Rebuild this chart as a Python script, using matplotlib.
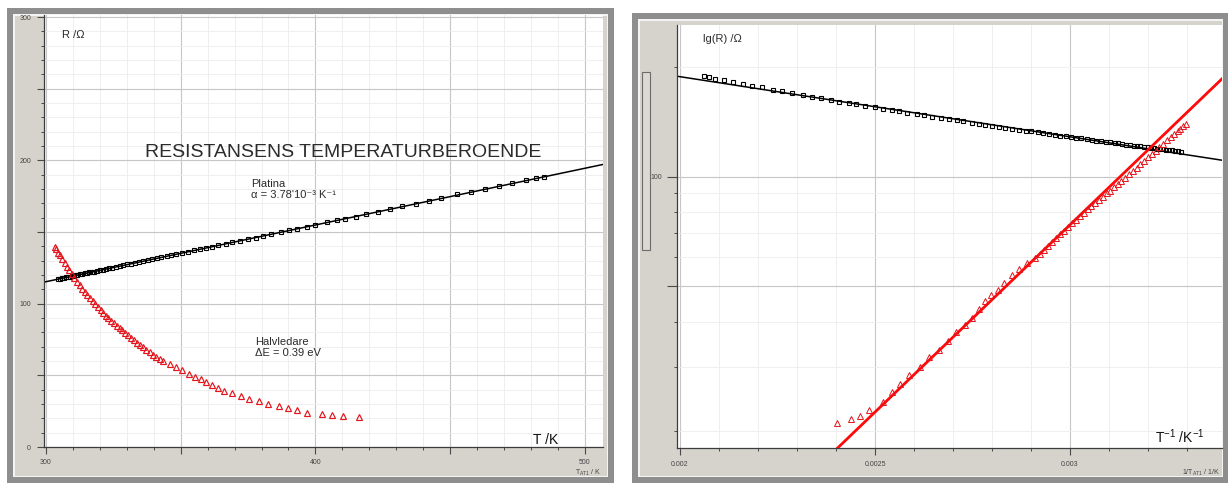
import matplotlib
matplotlib.use("Agg")
import matplotlib.pyplot as plt
import numpy as np
from matplotlib.patches import Rectangle
from matplotlib.ticker import MultipleLocator, FixedLocator, FuncFormatter, NullFormatter

plt.rcParams['font.family'] = ['Liberation Sans', 'DejaVu Sans']
plt.rcParams['mathtext.fontset'] = 'custom'
plt.rcParams['mathtext.rm'] = 'Liberation Sans'
plt.rcParams['mathtext.it'] = 'Liberation Sans:italic'
plt.rcParams['mathtext.bf'] = 'Liberation Sans:bold'

# ---------------- data ----------------
# Platinum resistor: temperature (K) and resistance (Ohm)
pt_T = [304.4, 305.1, 305.9, 306.6, 307.3, 308.1, 308.8, 309.5, 310.3, 311.0,
        311.7, 312.6, 313.5, 314.4, 315.3, 316.1, 317.0, 318.0, 319.1, 320.1,
        321.1, 322.3, 323.5, 324.7, 326.0, 327.3, 328.6, 330.1, 331.5, 333.0,
        334.5, 336.1, 337.7, 339.3, 341.1, 342.8, 344.8, 346.5, 348.4, 350.6,
        352.8, 355.0, 357.2, 359.4, 361.6, 363.8, 366.8, 369.0, 371.9, 374.8,
        377.8, 380.7, 383.6, 387.3, 390.2, 393.2, 396.8, 399.8, 404.2, 407.9,
        410.8, 415.2, 418.9, 423.3, 427.7, 432.1, 437.2, 442.3, 446.7, 452.6,
        457.7, 462.9, 468.0, 473.1, 478.3, 481.9, 484.9]
pt_R = [117.2, 117.5, 117.8, 118.1, 118.3, 118.6, 118.9, 119.2, 119.5, 119.8,
        120.1, 120.4, 120.8, 121.1, 121.5, 121.8, 122.2, 122.4, 123.0, 123.4,
        123.8, 124.3, 124.7, 125.2, 125.7, 126.3, 126.8, 127.4, 127.9, 128.5,
        129.1, 129.7, 130.4, 131.3, 131.7, 132.4, 133.2, 133.9, 134.6, 135.5,
        136.3, 137.2, 138.1, 139.0, 139.8, 140.7, 141.9, 142.8, 143.9, 145.1,
        145.9, 147.4, 148.5, 150.0, 151.2, 152.3, 153.8, 155.0, 156.7, 158.2,
        159.3, 160.7, 162.5, 164.3, 166.0, 167.8, 169.8, 171.8, 173.5, 176.2,
        177.9, 180.0, 182.0, 184.0, 186.1, 187.5, 188.7]

# Semiconductor (Halvledare): temperature (K) and resistance (Ohm)
hl_T = [303.3, 303.9, 304.6, 305.2, 306.1, 306.9, 307.8, 308.7, 309.7, 310.6,
        311.6, 312.5, 313.5, 314.4, 315.4, 316.4, 317.3, 318.3, 319.3, 320.3,
        321.2, 322.2, 323.2, 324.3, 325.3, 326.3, 327.4, 328.4, 329.5, 330.6,
        331.6, 332.7, 333.8, 335.0, 336.1, 337.3, 338.5, 339.7, 340.9, 342.2,
        343.5, 346.2, 348.4, 350.6, 353.2, 355.3, 357.4, 359.5, 361.6, 363.8,
        366.1, 369.2, 372.3, 375.5, 379.1, 382.4, 386.4, 389.9, 393.2, 396.9,
        402.4, 406.2, 410.3, 416.2]
hl_R = [139.6, 137.8, 135.6, 133.7, 130.9, 128.5, 125.9, 123.3, 120.4, 118.0,
        115.3, 113.0, 110.5, 108.3, 106.0, 103.7, 101.6, 99.5, 97.4, 95.3,
        93.5, 91.6, 90.0, 88.1, 86.4, 84.7, 82.9, 81.3, 79.5, 77.8,
        76.2, 74.6, 72.9, 71.1, 69.5, 67.8, 66.1, 64.5, 62.9, 61.3,
        59.7, 57.8, 55.8, 53.8, 51.0, 49.0, 47.3, 45.5, 43.2, 41.0,
        39.2, 37.4, 35.3, 33.5, 32.0, 30.0, 28.5, 27.0, 25.6, 24.0,
        22.8, 22.0, 21.6, 21.0]

# fits
pt_R0 = 104.7          # Ohm at 273.15 K
pt_alpha = 3.78e-3     # 1/K
pt_lg_a, pt_lg_b = 2.605, -165.1      # lg(R) = a + b / T   (platinum, right panel)
hl_lg_a, hl_lg_b = -1.219, 1029.0     # lg(R) = a + b / T   (semiconductor)

# ---------------- figure ----------------
W, H = 1228, 484
fig = plt.figure(figsize=(W / 100, H / 100), dpi=100)
fig.patch.set_facecolor('white')


def rect_px(x0, y0, x1, y1):
    return [x0 / W, 1 - y1 / H, (x1 - x0) / W, (y1 - y0) / H]


def frame(x0, y0, x1, y1):
    fig.add_artist(Rectangle((x0 / W, 1 - y1 / H), (x1 - x0) / W, (y1 - y0) / H,
                             transform=fig.transFigure, facecolor='#8e8e8e',
                             edgecolor='none', zorder=-3))
    b = 6
    fig.add_artist(Rectangle(((x0 + b) / W, 1 - (y1 - b) / H), (x1 - x0 - 2 * b) / W,
                             (y1 - y0 - 2 * b) / H, transform=fig.transFigure,
                             facecolor='#f4f4f4', edgecolor='none', zorder=-2))
    b = 7.5
    fig.add_artist(Rectangle(((x0 + b) / W, 1 - (y1 - b) / H), (x1 - x0 - 2 * b) / W,
                             (y1 - y0 - 2 * b) / H, transform=fig.transFigure,
                             facecolor='#d6d3cd', edgecolor='none', zorder=-1))


frame(7, 8, 614, 483)
frame(632, 13, 1229, 483)

# scrollbar-like widget on the right panel
fig.add_artist(Rectangle((642 / W, 1 - 250 / H), 8 / W, 178 / H, transform=fig.transFigure,
                         facecolor='#dcd9d3', edgecolor='#6b6b6b', lw=0.8, zorder=-0.5))

GRID_MAJ = '#c6c6c6'
GRID_MIN = '#ededed'
TXT = '#2b2b2b'


def style(ax):
    ax.set_facecolor('white')
    for s in ('top', 'right'):
        ax.spines[s].set_visible(False)
    for s in ('left', 'bottom'):
        ax.spines[s].set_color('#3c3c3c')
        ax.spines[s].set_linewidth(0.9)
    ax.tick_params(which='major', length=5, width=0.8, color='#4a4a4a',
                   labelsize=5, labelcolor='#444444', pad=4)
    ax.tick_params(which='minor', length=2.3, width=0.7, color='#4a4a4a')
    ax.grid(which='major', color=GRID_MAJ, lw=0.8)
    ax.grid(which='minor', color=GRID_MIN, lw=0.6)
    ax.set_axisbelow(True)


# ---------------- left panel ----------------
ax1 = fig.add_axes(rect_px(43.5, 15, 603, 447))
style(ax1)
ax1.set_xlim(299.1, 506.7)
ax1.set_ylim(0, 301.4)
ax1.xaxis.set_major_locator(MultipleLocator(50))
ax1.xaxis.set_minor_locator(MultipleLocator(10))
ax1.yaxis.set_major_locator(MultipleLocator(50))
ax1.yaxis.set_minor_locator(MultipleLocator(10))
hund = FuncFormatter(lambda v, p: f"{v:.0f}" if abs(v % 100) < 1e-6 or abs(v % 100 - 100) < 1e-6 else "")
ax1.xaxis.set_major_formatter(hund)
ax1.yaxis.set_major_formatter(hund)

Tl = np.linspace(299.1, 506.7, 50)
ax1.plot(Tl, pt_R0 * (1 + pt_alpha * (Tl - 273.15)), color='black', lw=1.1, zorder=2)
ax1.plot(pt_T, pt_R, ls='none', marker='s', ms=3.4, mfc='none', mec='black', mew=0.8, zorder=3)
ax1.plot(hl_T, hl_R, ls='none', marker='^', ms=4.4, mfc='none', mec='#e3141b', mew=0.85, zorder=4)


def ftext(x, y, s, **kw):
    fig.text(x / W, 1 - y / H, s, **kw)


ftext(62, 38.5, 'R /Ω', fontsize=8, color=TXT)
ftext(145, 157, 'RESISTANSENS TEMPERATURBEROENDE', fontsize=14, color=TXT)
ftext(251, 197.5, "Platina\nα = 3.78'10⁻³ K⁻¹", fontsize=8, color=TXT,
      linespacing=1.05, va='baseline')
ftext(255, 356, 'Halvledare\nΔE = 0.39 eV', fontsize=8, color=TXT,
      linespacing=1.15, va='baseline')
ftext(533, 443.5, 'T /K', fontsize=10, color='#111111')
ftext(601, 475, 'T$_{\\mathrm{AT1}}$ / K', fontsize=5, color='#444444', ha='right')

# ---------------- right panel ----------------
ax2 = fig.add_axes(rect_px(677, 25, 1222, 448))
style(ax2)
ax2.set_yscale('log')
ax2.set_xlim(0.0019923, 0.0033897)
ax2.set_ylim(17.98, 261.1)
ax2.xaxis.set_major_locator(MultipleLocator(0.0005))
ax2.xaxis.set_minor_locator(MultipleLocator(0.0001))
ax2.xaxis.set_major_formatter(FuncFormatter(lambda v, p: '%g' % round(v, 6)))
ax2.yaxis.set_major_locator(FixedLocator([50, 100]))
ax2.yaxis.set_minor_locator(FixedLocator([20, 30, 40, 60, 70, 80, 90, 200]))
ax2.yaxis.set_major_formatter(FuncFormatter(lambda v, p: '100' if abs(v - 100) < 1e-6 else ''))
ax2.yaxis.set_minor_formatter(NullFormatter())
ax2.tick_params(axis='y', which='major', length=7)

inv_pt = 1.0 / np.array(pt_T)
inv_hl = 1.0 / np.array(hl_T)
xl = np.linspace(0.0019923, 0.0033897, 50)
ax2.plot(xl, 10 ** (pt_lg_a + pt_lg_b * xl), color='black', lw=1.1, zorder=2)
ax2.plot(inv_pt, pt_R, ls='none', marker='s', ms=3.4, mfc='none', mec='black', mew=0.8, zorder=3)
ax2.plot(xl, 10 ** (hl_lg_a + hl_lg_b * xl), color='#ff0a0a', lw=2.0, zorder=4)
ax2.plot(inv_hl, hl_R, ls='none', marker='^', ms=4.0, mfc='none', mec='#e3141b', mew=0.7, zorder=5)

ftext(703, 41.5, 'lg(R) /Ω', fontsize=8, color=TXT)
ftext(1155, 443.5, 'T$^{-1}$ /K$^{-1}$', fontsize=10, color='#111111')
ftext(1220, 474.5, '1/T$_{\\mathrm{AT1}}$ / 1/K', fontsize=5, color='#444444', ha='right')

fig.savefig('out.png', dpi=100, facecolor='white')
